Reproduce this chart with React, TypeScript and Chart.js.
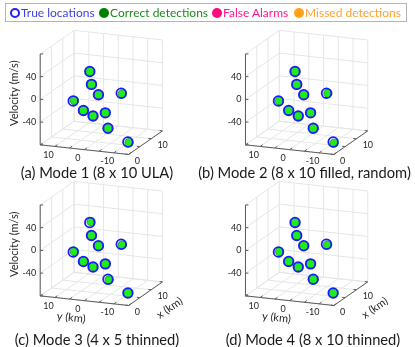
import React, { useEffect, useRef } from "react";
import { Chart, registerables } from "chart.js";

Chart.register(...registerables);

const W = 415;
const H = 347;

// ---- axis limits & ticks ----
const xLim = [0, 15]; // x (km)
const yLim = [-15, 15]; // y (km)
const zLim = [-80, 80]; // Velocity (m/s)
const xTicks = [0, 5, 10, 15];
const yTicks = [-15, -10, -5, 0, 5, 10, 15];
const zTicks = [-80, -40, 0, 40, 80];
const xTickLabels = [0, 10];
const yTickLabels = [10, 0, -10];
const zTickLabels = [40, 0, -40];

// ---- true target locations ----
const trueX = [8, 6, 7, 12, 3, 4, 5, 9, 6, 4];
const trueY = [4.3, 2.2, 0.6, -3.3, 6.1, 3.4, 0.9, -0.2, -3.4, -11.7];
const trueV = [33, 17, -3, -12, -6, -24, -35, -40, -57, -71];

// ---- correct detections per mode ----
const detX = [8, 6, 7, 12, 3, 4, 5, 9, 6, 4];
const detY_mode1 = [4.3, 2.2, 0.6, -3.7, 5.7, 3.4, 0.9, -0.2, -3.4, -12.1];
const detV_mode1 = [33, 17, -3, -13, -5, -24, -35, -40, -57, -72];
const detY_mode2 = [4.3, 2.2, 0.6, -3.8, 5.8, 3.4, 0.9, -0.2, -3.4, -12.0];
const detV_mode2 = [33, 17, -3, -12, -6, -24, -35, -40, -57, -73];
const detY_mode3 = [3.9, 2.2, 0.6, -3.7, 5.7, 3.4, 0.9, -0.2, -3.8, -11.7];
const detV_mode3 = [35, 17, -3, -13, -5, -24, -35, -40, -58, -71];
const detY_mode4 = [4.3, 2.2, 0.6, -3.7, 5.7, 3.4, 0.9, -0.2, -3.4, -11.7];
const detV_mode4 = [33, 17, -3, -13, -5, -24, -35, -40, -57, -71];

const captions = [
  "(a) Mode 1 (8 x 10 ULA)",
  "(b) Mode 2 (8 x 10 filled, random)",
  "(c) Mode 3 (4 x 5 thinned)",
  "(d) Mode 4 (8 x 10 thinned)",
];
const detYs = [detY_mode1, detY_mode2, detY_mode3, detY_mode4];
const detVs = [detV_mode1, detV_mode2, detV_mode3, detV_mode4];

// ---- layout (pixel geometry of the projected box) ----
const panels = [
  { ox: 0, oy: 0, capX: 97, capY: 172, zLabel: true, xyLabel: false },
  { ox: 212, oy: 0, capX: 304.5, capY: 172, zLabel: false, xyLabel: false },
  { ox: 0, oy: 157, capX: 97, capY: 339, zLabel: true, xyLabel: true },
  { ox: 212, oy: 157, capX: 313, capY: 339, zLabel: false, xyLabel: true },
];
const ORIGIN = [34.7, 143.7]; // (x=xmin, y=ymax, z=zmin)
const EY = [91.3, 10]; // ymax -> ymin
const EX = [35, -24.5]; // xmin -> xmax
const EZ = [0, -94.5]; // zmin -> zmax

type P = { ox: number; oy: number };

function project(p: P, x: number, y: number, z: number) {
  const u = (yLim[1] - y) / (yLim[1] - yLim[0]);
  const v = (x - xLim[0]) / (xLim[1] - xLim[0]);
  const w = (z - zLim[0]) / (zLim[1] - zLim[0]);
  return {
    x: p.ox + ORIGIN[0] + u * EY[0] + v * EX[0] + w * EZ[0],
    y: p.oy + ORIGIN[1] + u * EY[1] + v * EX[1] + w * EZ[1],
  };
}

const FONT = "Lato, 'Open Sans', sans-serif";

const axes3dPlugin = {
  id: "axes3d",
  beforeDatasetsDraw(chart: any) {
    const ctx = chart.ctx as CanvasRenderingContext2D;
    const sx = chart.scales.x;
    const sy = chart.scales.y;
    const px = (p: P, x: number, y: number, z: number) => {
      const q = project(p, x, y, z);
      return [sx.getPixelForValue(q.x), sy.getPixelForValue(q.y)];
    };
    const line = (a: number[], b: number[]) => {
      ctx.beginPath();
      ctx.moveTo(a[0], a[1]);
      ctx.lineTo(b[0], b[1]);
      ctx.stroke();
    };
    const [x0, x1] = xLim;
    const [y0, y1] = yLim;
    const [z0, z1] = zLim;
    ctx.save();
    panels.forEach((p) => {
      // grid
      ctx.strokeStyle = "#e6e6e6";
      ctx.lineWidth = 1;
      yTicks.forEach((t) => {
        line(px(p, x0, t, z0), px(p, x1, t, z0));
        line(px(p, x1, t, z0), px(p, x1, t, z1));
      });
      xTicks.forEach((t) => {
        line(px(p, t, y1, z0), px(p, t, y0, z0));
        line(px(p, t, y1, z0), px(p, t, y1, z1));
      });
      zTicks.forEach((t) => {
        line(px(p, x0, y1, t), px(p, x1, y1, t));
        line(px(p, x1, y1, t), px(p, x1, y0, t));
      });
      // axis lines
      ctx.strokeStyle = "#5a5a5a";
      ctx.lineWidth = 1;
      line(px(p, x0, y1, z0), px(p, x0, y1, z1));
      line(px(p, x0, y1, z0), px(p, x0, y0, z0));
      line(px(p, x0, y0, z0), px(p, x1, y0, z0));
      // tick marks
      const exl = Math.hypot(EX[0], EX[1]);
      const eyl = Math.hypot(EY[0], EY[1]);
      const tx = [(EX[0] / exl) * 3, (EX[1] / exl) * 3];
      const ty = [(-EY[0] / eyl) * 3, (-EY[1] / eyl) * 3];
      zTicks.forEach((t) => {
        const a = px(p, x0, y1, t);
        line(a, [a[0] + 3, a[1]]);
      });
      yTicks.forEach((t) => {
        const a = px(p, x0, t, z0);
        line(a, [a[0] + tx[0], a[1] + tx[1]]);
      });
      xTicks.forEach((t) => {
        const a = px(p, t, y0, z0);
        line(a, [a[0] + ty[0], a[1] + ty[1]]);
      });
      // tick labels
      ctx.fillStyle = "#262626";
      ctx.font = `9px ${FONT}`;
      ctx.textBaseline = "middle";
      ctx.textAlign = "right";
      zTickLabels.forEach((t) => {
        const a = px(p, x0, y1, t);
        ctx.fillText(String(t), a[0] - 4, a[1]);
      });
      ctx.textAlign = "center";
      yTickLabels.forEach((t) => {
        const a = px(p, x0, t, z0);
        ctx.fillText(String(t), a[0] - 6.5, a[1] + 8.6);
      });
      ctx.textAlign = "left";
      xTickLabels.forEach((t) => {
        const a = px(p, t, y0, z0);
        ctx.fillText(String(t), a[0] + 6.2, a[1] + 6.5);
      });
      // axis labels
      ctx.font = `11px ${FONT}`;
      ctx.textAlign = "center";
      if (p.zLabel) {
        ctx.save();
        ctx.translate(sx.getPixelForValue(p.ox + 8.3), sy.getPixelForValue(p.oy + 90));
        ctx.rotate(-Math.PI / 2);
        ctx.fillText("Velocity (m/s)", 0, 0);
        ctx.restore();
      }
      if (p.xyLabel) {
        ctx.save();
        ctx.translate(sx.getPixelForValue(p.ox + 66.7), sy.getPixelForValue(p.oy + 166.3));
        ctx.rotate(Math.atan2(EY[1], EY[0]));
        ctx.fillText("y (km)", 0, 0);
        ctx.restore();
        ctx.save();
        ctx.translate(sx.getPixelForValue(p.ox + 168.3), sy.getPixelForValue(p.oy + 156.3));
        ctx.rotate(Math.atan2(EX[1], EX[0]));
        ctx.fillText("x (km)", 0, 0);
        ctx.restore();
      }
    });
    ctx.restore();
  },
};

export default function App() {
  const ref = useRef<HTMLCanvasElement>(null);
  useEffect(() => {
    document.body.style.margin = "0";
    const datasets: any[] = [];
    panels.forEach((p, i) => {
      datasets.push({
        label: "True locations",
        data: trueX.map((x, k) => project(p, x, trueY[k], trueV[k])),
        pointStyle: "circle",
        pointRadius: 4.8,
        borderWidth: 1.8,
        borderColor: "#1a1aff",
        backgroundColor: "rgba(0,0,0,0)",
        showLine: false,
      });
      datasets.push({
        label: "Correct detections",
        data: detX.map((x, k) => project(p, x, detYs[i][k], detVs[i][k])),
        pointStyle: "circle",
        pointRadius: 4.1,
        borderWidth: 0.6,
        borderColor: "#0f640f",
        backgroundColor: "#1eec1e",
        showLine: false,
      });
    });
    const chart = new Chart(ref.current as HTMLCanvasElement, {
      type: "scatter",
      data: { datasets },
      options: {
        responsive: false,
        animation: false,
        events: [],
        layout: { padding: 0 },
        plugins: { legend: { display: false }, tooltip: { enabled: false } },
        scales: {
          x: { type: "linear", min: 0, max: W, display: false },
          y: { type: "linear", min: 0, max: H, reverse: true, display: false },
        },
      },
      plugins: [axes3dPlugin],
    });
    return () => chart.destroy();
  }, []);

  const legendItems = [
    { label: "True locations", color: "#3f3fe0", marker: "ring", mColor: "#2020ff", mx: 10, tx: 21 },
    { label: "Correct detections", color: "#1f8a1f", marker: "dot", mColor: "#008000", mx: 99, tx: 110 },
    { label: "False Alarms", color: "#ff1a8c", marker: "dot", mColor: "#ff0a80", mx: 212, tx: 223 },
    { label: "Missed detections", color: "#ffa22e", marker: "dot", mColor: "#ffa31a", mx: 294, tx: 305 },
  ];

  return (
    <div style={{ position: "relative", width: W, height: H, background: "#fff", fontFamily: FONT, overflow: "hidden" }}>
      <canvas ref={ref} width={W} height={H} style={{ position: "absolute", left: 0, top: 0, width: W, height: H }} />
      <div
        style={{
          position: "absolute",
          left: 5,
          top: 3,
          width: 402,
          height: 19,
          boxSizing: "border-box",
          border: "1.5px solid #b4b4b4",
        }}
      />
      {legendItems.map((it) => (
        <React.Fragment key={it.label}>
          <div
            style={{
              position: "absolute",
              left: it.mx,
              top: 7.5,
              width: 10,
              height: 10,
              boxSizing: "border-box",
              borderRadius: "50%",
              border: it.marker === "ring" ? `2.5px solid ${it.mColor}` : "none",
              background: it.marker === "ring" ? "#fff" : it.mColor,
            }}
          />
          <span
            style={{
              position: "absolute",
              left: it.tx,
              top: 3.5,
              fontSize: 12,
              lineHeight: "18px",
              color: it.color,
              whiteSpace: "nowrap",
            }}
          >
            {it.label}
          </span>
        </React.Fragment>
      ))}
      {panels.map((p, i) => (
        <div
          key={captions[i]}
          style={{
            position: "absolute",
            left: p.capX,
            top: p.capY - 10,
            transform: "translateX(-50%)",
            fontSize: 14.7,
            lineHeight: "20px",
            color: "#1a1a1a",
            whiteSpace: "nowrap",
          }}
        >
          {captions[i]}
        </div>
      ))}
    </div>
  );
}
